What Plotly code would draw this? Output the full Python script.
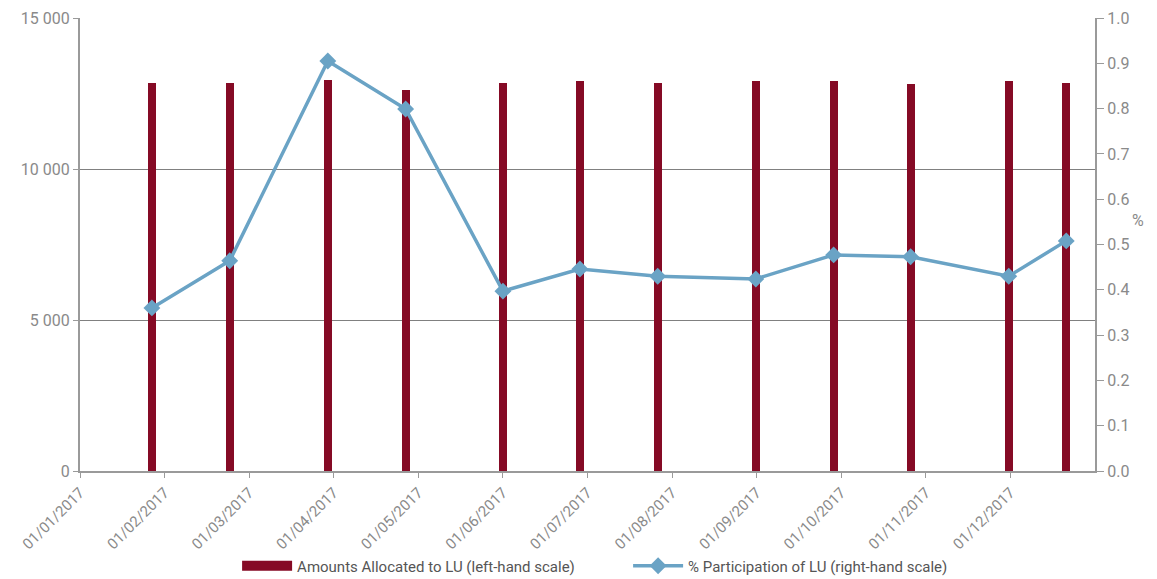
import plotly.graph_objects as go

# Positions along the month axis (0 = 01/01/2017, 1 = 01/02/2017, ...)
obs_pos = [0.85, 1.77, 2.93, 3.85, 5.00, 5.91, 6.83, 7.99, 8.91, 9.82, 10.98, 11.66]
amounts = [12850, 12850, 12950, 12600, 12850, 12900, 12850, 12900, 12900, 12830, 12920, 12860]
participation = [0.360, 0.464, 0.905, 0.799, 0.397, 0.446, 0.430, 0.424, 0.477, 0.473, 0.430, 0.508]

tick_pos = list(range(12))
tick_labels = ["01/01/2017", "01/02/2017", "01/03/2017", "01/04/2017", "01/05/2017", "01/06/2017",
               "01/07/2017", "01/08/2017", "01/09/2017", "01/10/2017", "01/11/2017", "01/12/2017"]
left_ticks = [0, 5000, 10000, 15000]
left_labels = ["0", "5 000", "10 000", "15 000"]

BAR_NAME = "Amounts Allocated to LU (left-hand scale)"
LINE_NAME = "% Participation of LU (right-hand scale)"

BAR = "#850a25"
LINE = "#6aa3c5"
TXT = "#8a8a8a"
AX = "#9a9a9a"
FONT = "Roboto"

fig = go.Figure()
fig.add_trace(go.Bar(
    x=obs_pos, y=amounts, width=0.095, marker=dict(color=BAR, line=dict(width=0)),
    name=BAR_NAME, yaxis="y", showlegend=False, legendgroup="bar",
))
# legend entry for the bar series drawn as a wide block
fig.add_trace(go.Scatter(
    x=[None], y=[None], mode="lines", line=dict(color=BAR, width=11),
    name=BAR_NAME, legendgroup="bar", hoverinfo="skip",
))
fig.add_trace(go.Scatter(
    x=obs_pos, y=participation, mode="lines+markers",
    line=dict(color=LINE, width=3.5),
    marker=dict(symbol="diamond", size=13, color=LINE),
    name=LINE_NAME, yaxis="y2",
))

fig.update_layout(
    width=1157, height=579,
    margin=dict(l=80, r=62, t=18, b=108, autoexpand=False),
    paper_bgcolor="white", plot_bgcolor="white",
    font=dict(family=FONT, color=TXT, size=16),
    showlegend=True,
    legend=dict(orientation="h", x=0.54, xanchor="center", y=-0.2097, yanchor="middle",
                font=dict(size=15, color="#555555", family=FONT),
                itemwidth=50, entrywidth=326, entrywidthmode="pixels", traceorder="normal"),
    bargap=0,
    xaxis=dict(range=[0, 12], tickmode="array", tickvals=tick_pos, ticktext=tick_labels,
               tickangle=-45, tickfont=dict(size=15, color=TXT), automargin=False,
               showline=True, linecolor=AX, linewidth=2,
               ticks="outside", ticklen=5, tickcolor=AX, showgrid=False, zeroline=False),
    yaxis=dict(range=[0, 15000], tickmode="array", tickvals=left_ticks, ticktext=left_labels,
               showline=True, linecolor=AX, linewidth=2, automargin=False,
               ticks="outside", ticklen=5, tickcolor=AX,
               showgrid=True, gridcolor="#808080", gridwidth=1, zeroline=False,
               tickfont=dict(size=16, color=TXT)),
    yaxis2=dict(range=[0, 1], overlaying="y", side="right", dtick=0.1, tickformat=".1f",
                showline=True, linecolor=AX, linewidth=2, automargin=False,
                ticks="outside", ticklen=7, tickcolor=AX,
                showgrid=False, zeroline=False, tickfont=dict(size=16, color=TXT)),
    annotations=[dict(text="%", xref="paper", yref="paper", x=1.05, y=0.552,
                      showarrow=False, font=dict(size=16, color=TXT))],
)

fig.write_html("out.html")
